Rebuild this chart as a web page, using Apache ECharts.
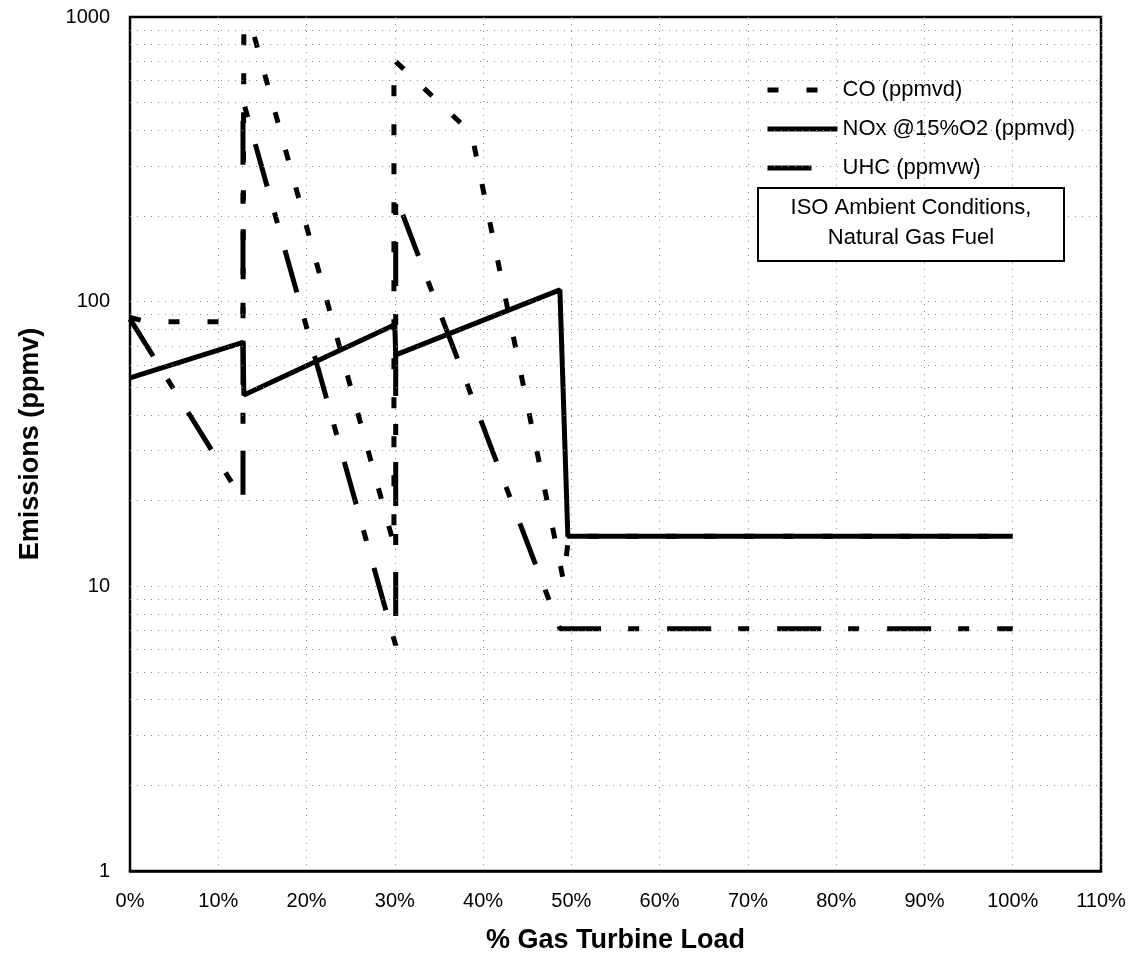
<!DOCTYPE html>
<html>
<head>
<meta charset="utf-8">
<script src="https://cdn.jsdelivr.net/npm/echarts@6/dist/echarts.min.js"></script>
<style>
  html, body { margin: 0; padding: 0; background: #fff; }
  #chart { width: 1136px; height: 975px; }
</style>
</head>
<body>
<div id="chart"></div>
<script>
// Values: [load %, ppm]
const coPoints = [[0, 88], [2, 85], [12.8, 85], [12.9, 940], [13.8, 920], [29.9, 14], [29.9, 707], [38.7, 390], [49.1, 10.5], [49.7, 15], [100, 15]];
const noxPoints = [[0, 54], [12.8, 72], [12.9, 47], [30, 83], [30.1, 65], [48.7, 110], [49.6, 15], [100, 15]];
const uhcPoints = [[0, 87], [12.8, 20], [12.8, 510], [30.1, 6.2], [30.1, 235], [48.7, 7.1], [100, 7.1]];

const seriesNames = ['CO (ppmvd)', 'NOx @15%O2 (ppmvd)', 'UHC (ppmvw)'];
const minorGridValues = [2, 3, 4, 5, 6, 7, 8, 9, 10, 20, 30, 40, 50, 60, 70, 80, 90, 100, 200, 300, 400, 500, 600, 700, 800, 900];
const noteLines = ['ISO Ambient Conditions,', 'Natural Gas Fuel'];

const FONT = "'Liberation Sans', Arial, sans-serif";
const gridDots = { color: '#8a8a8a', width: 1, type: [1, 6] };

const chart = echarts.init(document.getElementById('chart'));

chart.setOption({
  animation: false,
  backgroundColor: '#fff',
  color: ['#000'],
  textStyle: { fontFamily: FONT, color: '#000' },
  grid: {
    left: 130, right: 35, top: 17, bottom: 104,
    show: true, borderColor: '#000', borderWidth: 2.5, backgroundColor: 'transparent'
  },
  legend: {
    data: seriesNames,
    orient: 'vertical',
    left: 760,
    top: 74,
    itemWidth: 70,
    itemHeight: 14,
    itemGap: 17,
    itemStyle: { opacity: 0 },
    lineStyle: { width: 5 },
    textStyle: { fontSize: 22, fontFamily: FONT, color: '#000', lineHeight: 20 }
  },
  xAxis: {
    type: 'value',
    min: 0, max: 110, interval: 10,
    name: '% Gas Turbine Load',
    nameLocation: 'middle',
    nameGap: 56,
    nameTextStyle: { fontSize: 27, fontWeight: 'bold', fontFamily: FONT, color: '#000' },
    axisLine: { lineStyle: { color: '#000', width: 2.5 } },
    axisTick: { show: false },
    axisLabel: { fontSize: 20, color: '#000', margin: 20, formatter: '{value}%' },
    splitLine: { show: true, lineStyle: gridDots }
  },
  yAxis: {
    type: 'log',
    logBase: 10,
    min: 1, max: 1000,
    name: 'Emissions (ppmv)',
    nameLocation: 'middle',
    nameGap: 86,
    nameTextStyle: { fontSize: 27, fontWeight: 'bold', fontFamily: FONT, color: '#000' },
    axisLine: { lineStyle: { color: '#000', width: 2 } },
    axisTick: { show: false },
    axisLabel: { fontSize: 20, color: '#000', margin: 20, formatter: (v) => String(Math.round(v)) },
    splitLine: { show: false }
  },
  series: [
    {
      name: 'gridlines',
      type: 'line',
      data: [],
      z: 1,
      silent: true,
      markLine: {
        silent: true,
        symbol: ['none', 'none'],
        label: { show: false },
        lineStyle: gridDots,
        data: minorGridValues.map((v) => ({ yAxis: v }))
      }
    },
    {
      name: seriesNames[0],
      type: 'line',
      data: coPoints,
      symbol: 'none',
      z: 3,
      itemStyle: { color: '#000' },
      lineStyle: { color: '#000', width: 5, type: [11, 28] }
    },
    {
      name: seriesNames[2],
      type: 'line',
      data: uhcPoints,
      symbol: 'none',
      z: 3,
      itemStyle: { color: '#000' },
      lineStyle: { color: '#000', width: 5, type: [44, 27, 11, 28] }
    },
    {
      name: seriesNames[1],
      type: 'line',
      data: noxPoints,
      symbol: 'none',
      z: 4,
      itemStyle: { color: '#000' },
      lineStyle: { color: '#000', width: 5, type: 'solid' }
    }
  ],
  graphic: [
    {
      type: 'rect',
      z: 10,
      shape: { x: 758, y: 188, width: 306, height: 73 },
      style: { fill: '#fff', stroke: '#000', lineWidth: 2 }
    },
    {
      type: 'text',
      z: 11,
      x: 911, y: 208,
      style: { text: noteLines[0], align: 'center', verticalAlign: 'middle', fontSize: 22, fontFamily: FONT, fill: '#000' }
    },
    {
      type: 'text',
      z: 11,
      x: 911, y: 238,
      style: { text: noteLines[1], align: 'center', verticalAlign: 'middle', fontSize: 22, fontFamily: FONT, fill: '#000' }
    }
  ]
});
</script>
</body>
</html>
